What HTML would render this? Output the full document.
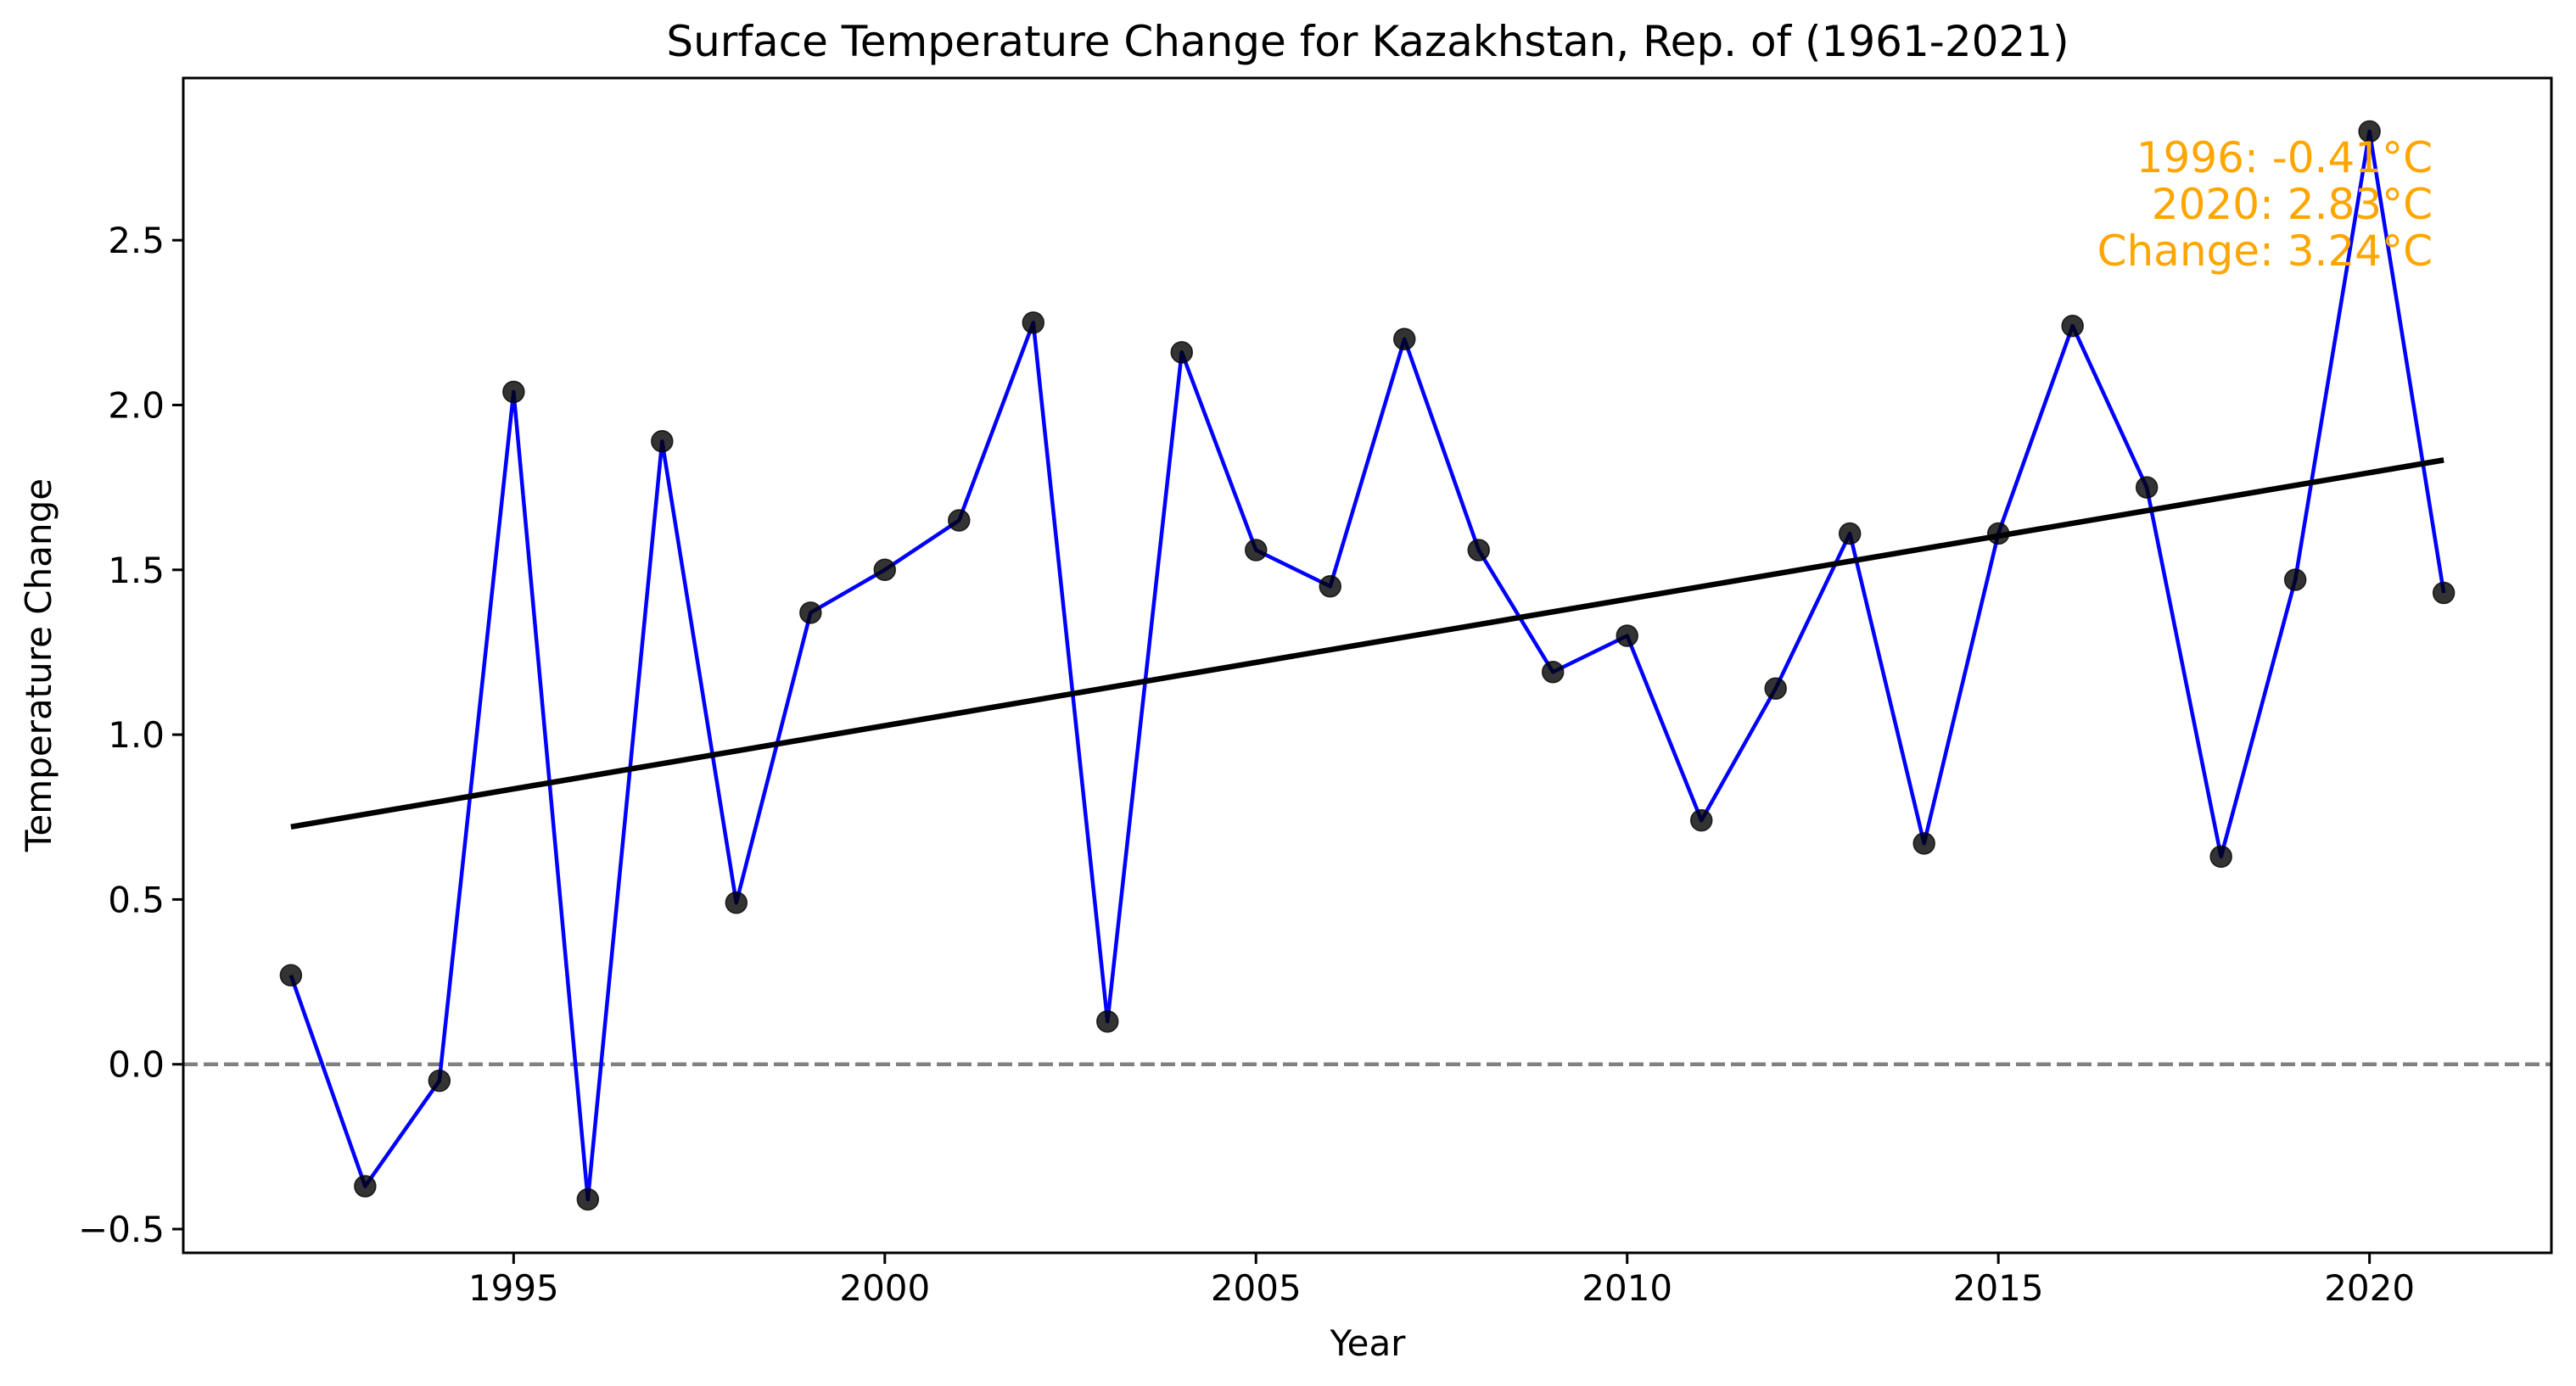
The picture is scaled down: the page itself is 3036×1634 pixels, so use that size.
<!DOCTYPE html>
<html><head><meta charset="utf-8"><style>
html,body{margin:0;padding:0;background:#fff;}
svg{display:block;font-family:"DejaVu Sans","Liberation Sans",sans-serif;}
</style></head><body>
<svg id="chart" width="3036" height="1634" viewBox="0 0 3036 1634" xmlns="http://www.w3.org/2000/svg">
<rect width="3036" height="1634" fill="#fff"/>
<text x="1612" y="66" font-size="50" text-anchor="middle">Surface Temperature Change for Kazakhstan, Rep. of (1961-2021)</text>
<g id="plot"></g>
<text x="1612" y="1598" font-size="42" text-anchor="middle">Year</text>
<text x="0" y="0" font-size="42" text-anchor="middle" transform="translate(60,784) rotate(-90)">Temperature Change</text>
<g font-size="50" fill="#ffa500" text-anchor="end">
<text x="2867" y="203">1996: -0.41°C</text>
<text x="2867" y="258">2020: 2.83°C</text>
<text x="2867" y="313">Change: 3.24°C</text>
</g>
</svg>
<script>
const years = [1992,1993,1994,1995,1996,1997,1998,1999,2000,2001,2002,2003,2004,2005,2006,2007,2008,2009,2010,2011,2012,2013,2014,2015,2016,2017,2018,2019,2020,2021];
const temps = [0.27,-0.37,-0.05,2.04,-0.41,1.89,0.49,1.37,1.50,1.65,2.25,0.13,2.16,1.56,1.45,2.20,1.56,1.19,1.30,0.74,1.14,1.61,0.67,1.61,2.24,1.75,0.63,1.47,2.83,1.43];
const xTicks = [1995,2000,2005,2010,2015,2020];
const yTicks = [-0.5,0.0,0.5,1.0,1.5,2.0,2.5];
const yTickLabels = ["\u22120.5","0.0","0.5","1.0","1.5","2.0","2.5"];

const L=216,R=3007,T=92,B=1477;
const xmin=1990.55,xmax=2022.45,ymin=-0.572,ymax=2.992;
const sx=v=>L+(v-xmin)/(xmax-xmin)*(R-L);
const sy=v=>B-(v-ymin)/(ymax-ymin)*(B-T);
const NS="http://www.w3.org/2000/svg";
const g=document.getElementById('plot');
function mk(tag,attrs,parent){const e=document.createElementNS(NS,tag);for(const k in attrs)e.setAttribute(k,attrs[k]);(parent||g).appendChild(e);return e;}

const zl=mk('line',{x1:L,x2:R,y1:sy(0),y2:sy(0),stroke:'#808080','stroke-width':4.5,'stroke-dasharray':'17,7'});



const pts=years.map((y,i)=>sx(y)+','+sy(temps[i])).join(' ');
const pl=mk('polyline',{points:pts,fill:'none',stroke:'#0000ff','stroke-width':4.5,'stroke-linejoin':'round'});



const n=years.length;
const mx=years.reduce((a,b)=>a+b,0)/n, my=temps.reduce((a,b)=>a+b,0)/n;
let num=0,den=0;
for(let i=0;i<n;i++){num+=(years[i]-mx)*(temps[i]-my);den+=(years[i]-mx)**2;}
const slope=num/den, icpt=my-slope*mx;
const x0=years[0],x1=years[n-1];
const tl=mk('line',{x1:sx(x0),y1:sy(icpt+slope*x0),x2:sx(x1),y2:sy(icpt+slope*x1),stroke:'#000','stroke-width':6.5});



years.forEach((y,i)=>{
  const c=mk('circle',{cx:sx(y),cy:sy(temps[i]),r:12.5,fill:'#000','fill-opacity':0.8,stroke:'#000','stroke-opacity':0.8,'stroke-width':1.5});
  
  
});

const fr=mk('rect',{x:L,y:T,width:R-L,height:B-T,fill:'none',stroke:'#000','stroke-width':3});



xTicks.forEach(t=>{
  const x=sx(t);
  const tk=mk('line',{x1:x,x2:x,y1:B,y2:B+13,stroke:'#000','stroke-width':3});
  
  
  const tx=mk('text',{x:x,y:B+56,'font-size':42,'text-anchor':'middle'});
  tx.textContent=t;
  
  
});
yTicks.forEach((t,i)=>{
  const y=sy(t);
  const tk=mk('line',{x1:L-13,x2:L,y1:y,y2:y,stroke:'#000','stroke-width':3});
  
  
  const tx=mk('text',{x:L-22,y:y+15,'font-size':42,'text-anchor':'end'});
  tx.textContent=yTickLabels[i];
  
  
});
</script>
</body></html>
